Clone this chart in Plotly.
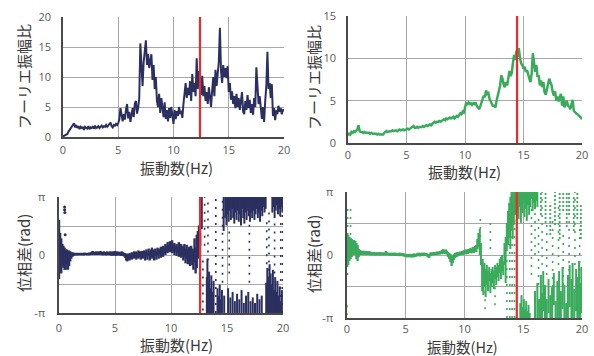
import numpy as np
import plotly.graph_objects as go

PI = np.pi

# ---------------- data ----------------
# Fourier amplitude ratio, left (navy), 0..20 Hz every 0.1 Hz
amp_left_freq = np.round(np.arange(0, 20.01, 0.1), 2)
amp_left = [
    0.1, 0.2, 0.3, 0.3, 0.5, 0.9, 1.2, 1.5, 1.9, 2.2,
    2.3, 1.6, 2.0, 1.5, 1.8, 1.3, 1.7, 1.5, 1.6, 1.2,
    1.7, 1.5, 1.4, 1.8, 1.3, 1.6, 1.5, 1.7, 1.4, 1.9,
    1.5, 1.6, 1.8, 1.5, 1.7, 1.9, 1.6, 1.8, 1.7, 2.0,
    1.7, 1.9, 2.1, 2.4, 1.8, 1.6, 2.0, 1.9, 2.2, 2.0,
    2.3, 3.0, 4.8, 3.2, 2.6, 3.8, 2.9, 4.6, 5.5, 3.1,
    4.2, 2.5, 3.6, 4.8, 3.3, 5.6, 6.0, 3.9, 4.8, 6.5,
    15.6, 11.0, 8.5, 12.5, 14.8, 16.1, 12.0, 13.8, 11.5, 13.2,
    13.8, 9.5, 12.0, 8.0, 10.0, 6.0, 5.0, 7.2, 4.0, 6.5,
    5.2, 3.3, 5.8, 3.0, 4.5, 2.6, 4.8, 3.2, 5.0, 3.5,
    2.2, 4.5, 3.0, 4.3, 3.5, 5.0, 3.8, 4.4, 3.2, 5.5,
    7.0, 9.0, 6.5, 8.2, 7.0, 9.3, 6.0, 10.5, 7.5, 9.0,
    6.8, 13.1, 8.0, 11.0, 9.5, 7.0, 10.2, 6.8, 8.5, 6.0,
    7.5, 5.5, 8.3, 6.5, 5.0, 7.8, 10.0, 6.8, 11.2, 8.5,
    10.8, 12.5, 18.2, 11.0, 9.0, 12.0, 10.0, 11.5, 9.8, 11.8,
    7.5, 9.0, 6.2, 7.6, 5.5, 6.8, 4.8, 7.2, 5.0, 6.5,
    4.5, 5.8, 7.5, 4.2, 3.8, 6.0, 4.5, 7.0, 4.8, 6.2,
    4.0, 5.5, 3.7, 6.5, 5.0, 11.6, 7.0, 5.5, 6.8, 4.2,
    3.0, 5.0, 2.5, 6.0, 8.5, 14.2, 8.0, 9.0, 6.5, 8.8,
    3.5, 4.8, 2.8, 4.5, 3.8, 5.2, 4.2, 4.8, 3.8, 4.6,
    4.3,
]

# Fourier amplitude ratio, right (green), 0..20 Hz every 0.1 Hz
amp_right_freq = np.round(np.arange(0, 20.01, 0.1), 2)
amp_right = [
    0.9, 1.1, 1.0, 1.3, 1.2, 1.4, 1.3, 1.5, 1.6, 2.1,
    1.4, 1.3, 1.3, 1.2, 1.3, 1.2, 1.2, 1.2, 1.2, 1.1,
    1.2, 1.1, 1.1, 1.1, 1.1, 1.0, 1.1, 1.0, 1.0, 1.0,
    1.0, 1.2, 1.3, 1.4, 1.3, 1.4, 1.4, 1.4, 1.5, 1.4,
    1.5, 1.5, 1.4, 1.5, 1.6, 1.5, 1.6, 1.6, 1.5, 1.6,
    1.6, 1.7, 1.6, 1.7, 1.7, 1.8, 2.0, 1.8, 1.8, 1.9,
    1.8, 1.9, 1.9, 1.9, 2.0, 1.9, 2.0, 2.1, 2.0, 2.1,
    2.2, 2.1, 2.3, 2.4, 2.5, 2.4, 2.5, 2.5, 2.6, 2.5,
    2.6, 2.7, 2.8, 2.7, 2.9, 2.8, 2.9, 3.0, 2.9, 3.0,
    3.1, 2.9, 3.0, 3.2, 3.1, 3.3, 3.5, 3.4, 3.7, 3.6,
    4.4, 4.7, 4.6, 4.8, 4.6, 4.7, 4.5, 4.7, 4.6, 4.8,
    4.4, 4.2, 4.0, 4.3, 4.7, 5.2, 5.6, 5.4, 6.2, 5.8,
    5.9, 5.2, 4.9, 4.6, 4.3, 4.5, 4.2, 5.0, 5.6, 6.1,
    6.8, 8.0, 7.6, 6.9, 6.6, 7.2, 6.8, 7.6, 8.5, 7.9,
    8.3, 9.5, 10.4, 9.8, 10.9, 10.2, 11.2, 10.0, 9.4, 9.2,
    8.8, 9.0, 8.4, 8.6, 8.0, 7.6, 7.2, 8.2, 10.6, 9.6,
    8.4, 9.2, 7.8, 8.0, 6.8, 7.4, 6.6, 7.2, 6.0, 5.7,
    6.3, 7.0, 7.6, 7.2, 6.8, 6.0, 5.6, 6.1, 5.0, 5.5,
    4.9, 5.4, 5.8, 4.4, 5.5, 4.2, 4.6, 5.0, 4.4, 4.3,
    4.0, 4.6, 5.1, 3.8, 3.6, 3.5, 3.4, 3.3, 3.2, 3.0,
    2.8,
]

# Phase difference (rad), left: coherent band 0..12.6 Hz (min / max per 0.1 Hz)
ph_left_band_freq = np.round(np.arange(0, 12.61, 0.1), 2)
ph_left_band_lo = [
    -1.3, -0.8, -1.0, -0.6, -0.7, -0.8, -0.8, -0.5, -0.8, -0.6,
    -0.35, -0.2, -0.1, -0.05, -0.03, 0.0, -0.03, 0.0, -0.02, 0.0,
    -0.02, 0.0, -0.03, 0.0, 0.0, -0.02, 0.0, -0.02, 0.0, 0.02,
    0.0, 0.03, 0.0, 0.02, 0.0, 0.03, 0.0, 0.02, 0.0, -0.02,
    0.0, 0.02, -0.03, 0.0, 0.0, -0.02, 0.0, -0.05, 0.0, -0.04,
    0.0, -0.05, 0.0, -0.03, 0.0, -0.05, -0.02, -0.05, -0.08, -0.15,
    -0.3, -0.35, -0.25, -0.3, -0.2, -0.25, -0.15, -0.2, -0.1, -0.25,
    -0.15, -0.2, -0.1, -0.25, -0.12, -0.2, -0.05, -0.3, -0.1, -0.25,
    -0.05, -0.3, -0.1, -0.2, 0.0, -0.3, -0.05, -0.25, 0.0, -0.2,
    0.05, -0.15, 0.0, -0.1, 0.1, 0.0, 0.15, 0.1, 0.2, 0.15,
    0.25, 0.1, 0.2, 0.0, 0.15, -0.05, 0.1, -0.1, 0.05, -0.15,
    0.0, -0.3, -0.1, -0.45, -0.2, -0.5, -0.25, -0.6, -0.3, -0.55,
    -0.8, -0.4, -1.0, -0.7, -0.2, 0.4, 0.5,
]
ph_left_band_hi = [
    1.9, 1.2, 0.9, 0.6, 0.5, 0.4, 0.3, 0.3, 0.2, 0.25,
    0.2, 0.15, 0.15, 0.12, 0.12, 0.1, 0.12, 0.1, 0.12, 0.1,
    0.12, 0.1, 0.12, 0.13, 0.11, 0.12, 0.1, 0.14, 0.12, 0.18,
    0.22, 0.18, 0.15, 0.2, 0.16, 0.2, 0.17, 0.22, 0.18, 0.15,
    0.2, 0.17, 0.15, 0.2, 0.16, 0.18, 0.2, 0.15, 0.2, 0.17,
    0.22, 0.15, 0.2, 0.16, 0.18, 0.14, 0.2, 0.15, 0.12, 0.1,
    0.05, 0.08, 0.05, 0.1, 0.08, 0.15, 0.1, 0.2, 0.15, 0.2,
    0.12, 0.25, 0.18, 0.2, 0.22, 0.15, 0.25, 0.2, 0.3, 0.15,
    0.35, 0.2, 0.3, 0.4, 0.25, 0.3, 0.35, 0.2, 0.4, 0.3,
    0.35, 0.45, 0.3, 0.5, 0.4, 0.6, 0.5, 0.7, 0.55, 0.75,
    0.6, 0.8, 0.55, 0.65, 0.5, 0.6, 0.45, 0.7, 0.5, 0.6,
    0.45, 0.5, 0.6, 0.35, 0.55, 0.3, 0.45, 0.2, 0.5, 0.35,
    0.3, 0.9, 0.4, 1.1, 1.3, 1.6, 1.2,
]
# left: scattered region above 12.6 Hz, dense vertical clusters (freq, min, max)
ph_left_dense_freq = [
    12.75, 13.2, 13.25, 13.3, 13.4, 13.5, 13.6, 13.7, 13.8, 14.15, 14.25, 14.35, 14.45, 14.55,
    14.7, 14.75, 14.85, 14.95, 15.05, 15.1, 15.15, 15.25, 15.3, 15.35, 15.45, 15.5, 15.55,
    15.65, 15.7, 15.75, 15.85, 15.9, 15.95, 16.05, 16.1, 16.15, 16.25, 16.3, 16.35, 16.45,
    16.5, 16.55, 16.65, 16.7, 16.75, 16.85, 16.9, 16.95, 17.05, 17.1, 17.15, 17.25, 17.3,
    17.35, 17.45, 17.5, 17.55, 17.65, 17.7, 17.75, 17.85, 17.9, 17.95, 18.05, 18.1, 18.15,
    18.25, 18.35, 18.45, 18.5, 18.6, 18.7, 18.8, 18.9, 19.0, 19.1, 19.2, 19.3, 19.4, 19.5,
    19.6, 19.7, 19.8, 19.9, 19.05, 19.15, 19.25, 19.35, 19.45, 19.55, 19.65, 19.75, 19.85, 19.95,
]
ph_left_dense_lo = [
    1.4, -3.14, -3.14, -3.14, -3.14, -3.14, -3.14, -3.14, -3.14, -3.14, -3.14, -3.14, -3.14, -3.14,
    1.3, -3.14, 2.0, 1.6, 2.2, -3.14, 1.8, 2.4, -3.14, 1.9, 2.5, -3.14, 2.0,
    1.7, -3.14, 2.3, 1.9, -3.14, 2.4, 1.8, -3.14, 2.2, 1.6, -3.14, 2.5, 2.0,
    -3.14, 1.7, 2.3, -3.14, 1.9, 2.4, -3.14, 2.1, 1.8, -3.14, 2.3, 2.0, -3.14,
    2.4, 1.9, -3.14, 2.2, 2.5, -3.14, 2.0, 2.3, -3.14, 1.8, 2.4, -3.14, 2.1,
    2.6, 2.3, 2.5, -3.14, -3.14, -3.14, -3.14, -3.14, -3.14, -3.14, -3.14, -3.14, -3.14, -3.14,
    -3.14, -3.14, -3.14, -3.14, 2.3, 2.6, 2.0, 2.4, 2.7, 2.2, 2.5, 2.1, 2.6, 2.3,
]
ph_left_dense_hi = [
    3.14, -1.2, -0.2, -1.5, -0.9, -1.8, -1.1, -2.0, -1.4, -1.8, -2.2, -1.6, -2.4, -1.9,
    3.14, -2.2, 3.14, 3.14, 3.14, -1.8, 3.14, 3.14, -2.3, 3.14, 3.14, -2.0, 3.14,
    3.14, -2.5, 3.14, 3.14, -2.1, 3.14, 3.14, -2.4, 3.14, 3.14, -1.9, 3.14, 3.14,
    -2.6, 3.14, 3.14, -2.2, 3.14, 3.14, -2.0, 3.14, 3.14, -2.5, 3.14, 3.14, -2.3,
    3.14, 3.14, -2.6, 3.14, 3.14, -2.1, 3.14, 3.14, -2.4, 3.14, 3.14, -2.2, 3.14,
    3.14, 3.14, 3.14, -1.5, -0.7, -1.2, -0.5, -1.0, -1.6, -0.8, -1.9, -1.2, -2.0, -1.4,
    -2.2, -1.7, -2.5, -1.9, 3.14, 3.14, 3.14, 3.14, 3.14, 3.14, 3.14, 3.14, 3.14, 3.14,
]
# left: sparse vertical runs of points
ph_left_sparse_freq = [12.85, 13.0, 13.3, 14.0, 14.6, 15.2, 17.0, 18.55, 18.75, 19.25, 19.8, 19.98]
ph_left_sparse_lo = [-3.0, 0.5, -0.3, -3.14, -1.5, -1.0, -1.5, -0.5, -3.0, -1.0, -3.14, -3.14]
ph_left_sparse_hi = [-0.1, 3.14, 3.14, 3.14, 3.14, 1.5, 1.8, 2.0, 2.5, 2.0, 3.14, 3.14]
ph_left_mid_freq = []
ph_left_mid_lo = []
ph_left_mid_hi = []
ph_left_out_freq = [0.5, 0.5, 0.52, 0.55]
ph_left_out = [2.6, 2.45, 2.3, 1.1]

# Phase difference (rad), right: coherent band 0..11.2 Hz
ph_right_band_freq = np.round(np.arange(0, 11.21, 0.1), 2)
ph_right_band_lo = [
    -0.35, -0.5, -0.3, -0.2, -0.1, 0.0, 0.1, 0.0, -0.2, -0.3,
    -0.1, 0.0, 0.0, 0.02, 0.0, 0.03, 0.0, 0.02, 0.0, 0.02,
    -0.02, 0.0, -0.02, 0.0, -0.03, 0.0, -0.02, 0.0, -0.03, 0.0,
    -0.02, 0.0, -0.03, 0.0, -0.02, 0.0, -0.04, -0.02, -0.05, -0.03,
    -0.05, -0.03, -0.05, -0.04, -0.06, -0.04, -0.06, -0.05, -0.07, -0.08,
    -0.1, -0.12, -0.1, -0.12, -0.1, -0.13, -0.1, -0.12, -0.1, -0.08,
    -0.06, -0.05, -0.08, -0.05, -0.04, -0.06, -0.03, -0.05, -0.08, -0.12,
    -0.15, -0.05, -0.03, 0.0, -0.02, 0.0, 0.02, 0.0, 0.03, 0.02,
    0.05, 0.04, 0.08, 0.05, 0.08, 0.02, -0.1, -0.2, -0.35, -0.55,
    -0.4, -0.25, -0.15, -0.1, -0.08, -0.05, -0.02, 0.0, 0.02, 0.0,
    0.05, 0.03, 0.08, 0.05, 0.1, 0.12, 0.08, 0.15, 0.1, 0.2,
    0.15, 0.3, 0.4,
]
ph_right_band_hi = [
    1.1, 1.0, 0.9, 0.85, 0.8, 0.7, 0.75, 0.7, 0.6, 0.5,
    0.3, 0.25, 0.22, 0.2, 0.22, 0.2, 0.18, 0.2, 0.17, 0.2,
    0.15, 0.16, 0.14, 0.15, 0.12, 0.14, 0.12, 0.15, 0.12, 0.14,
    0.12, 0.13, 0.12, 0.2, 0.14, 0.12, 0.1, 0.12, 0.1, 0.12,
    0.1, 0.12, 0.1, 0.11, 0.1, 0.12, 0.08, 0.1, 0.08, 0.07,
    0.05, 0.06, 0.05, 0.04, 0.06, 0.04, 0.06, 0.08, 0.05, 0.07,
    0.1, 0.12, 0.08, 0.1, 0.12, 0.1, 0.12, 0.1, 0.08, 0.06,
    0.05, 0.12, 0.14, 0.12, 0.15, 0.14, 0.16, 0.18, 0.15, 0.2,
    0.22, 0.25, 0.3, 0.22, 0.28, 0.22, 0.15, 0.1, 0.05, -0.05,
    0.0, 0.05, 0.1, 0.12, 0.15, 0.12, 0.18, 0.15, 0.2, 0.22,
    0.25, 0.28, 0.25, 0.3, 0.28, 0.35, 0.3, 0.4, 0.35, 0.45,
    0.5, 0.8, 1.1,
]
ph_right_dense_freq = [
    11.3, 11.4, 11.5, 11.55, 11.6, 11.7, 11.8, 11.9, 12.0, 12.1, 12.2, 12.3, 12.4, 12.5,
    12.6, 12.7, 12.8, 12.9, 13.0, 13.1, 13.2, 13.3, 13.4, 13.5, 13.6, 13.7, 13.8, 13.9,
    14.0, 14.1, 14.2, 14.3, 14.5, 14.6, 14.7, 14.8, 14.9, 15.0, 15.1, 15.2, 15.3, 15.4,
    15.5, 15.6, 15.7, 15.8, 15.9, 16.0, 16.1, 16.2,
    14.75, 14.85, 14.95, 15.05, 15.15, 15.25, 15.35, 15.45, 15.55,
    16.0, 16.2, 16.35, 16.5, 16.6, 16.7, 16.85, 17.0, 17.15, 17.3, 17.45, 17.6, 17.75,
    17.9, 18.05, 18.2, 18.35, 18.5, 18.65, 18.8, 18.95, 19.1, 19.2, 19.35, 19.5, 19.6,
    19.75, 19.85, 19.95,
]
ph_right_dense_lo = [
    0.0, -0.5, -1.8, -1.5, -2.0, -1.6, -2.1, -1.5, -1.8, -1.3, -1.9, -1.6, -1.4, -1.7,
    -1.2, -1.5, -1.1, -1.3, -0.9, -1.2, -0.8, -1.0, -0.5, -1.4, 0.2, 0.5, 0.9, 0.3,
    1.2, 0.8, 1.5, 2.0, 2.2, 1.8, 2.4, 1.6, 2.1, 2.6, 1.9, 2.3, 1.7, 2.5,
    2.0, 2.4, 2.8, 2.2, 2.6, 2.3, 2.7, 2.4,
    -3.14, -3.14, -3.14, -3.14, -3.14, -3.14, -3.14, -3.14, -3.14,
    -3.14, -3.14, -3.14, -3.14, -3.14, -2.8, -3.14, -3.14, -2.9, -3.14, -3.14, -2.5, -3.14,
    -3.14, -3.14, -3.14, -2.7, -3.14, -3.14, -3.14, -2.6, -3.14, -3.14, -3.14, -2.8, -3.14,
    -3.14, -3.14, -2.9,
]
ph_right_dense_hi = [
    1.3, 0.6, -0.3, -0.2, -0.5, -0.4, -0.7, -0.5, -0.8, -0.6, -0.9, -0.7, -0.6, -0.8,
    -0.5, -0.6, -0.4, -0.5, -0.2, -0.1, 0.0, -0.3, 0.6, 0.9, 1.6, 2.2, 2.6, 2.9,
    3.14, 3.14, 3.14, 3.14, 3.14, 3.14, 3.14, 3.14, 3.14, 3.14, 3.14, 3.14, 3.14, 3.14,
    3.14, 3.14, 3.14, 3.14, 3.14, 3.14, 3.14, 3.14,
    -2.4, -2.0, -2.6, -2.2, -2.7, -2.3, -2.8, -2.5, -2.9,
    -1.8, -1.4, -2.2, -1.0, -1.9, -0.8, -1.5, -2.2, -1.2, -2.0, -1.6, -0.9, -2.3,
    -1.3, -0.8, -1.8, -0.6, -1.5, -2.4, -1.0, -0.5, -1.2, -0.4, -1.7, -0.7, -1.1,
    -0.3, -1.4, -0.6,
]
# right: upper-range runs of loosely packed points above 16 Hz
ph_right_mid_freq = [16.5, 16.9, 17.3, 17.7, 18.1, 18.4, 18.7, 18.9, 19.3, 19.6, 19.9]
ph_right_mid_lo = [2.0, 1.6, 1.0, 1.5, 0.8, 2.2, 1.4, 2.0, 1.2, 1.8, 0.8]
ph_right_mid_hi = [3.14, 3.14, 2.6, 3.14, 3.14, 3.14, 3.14, 3.14, 3.0, 3.14, 2.5]
ph_right_sparse_freq = [0.0, 0.05, 0.3, 11.35, 11.75, 12.2, 12.6, 13.6, 13.85, 14.05, 14.25,
                        15.7, 16.0, 16.3, 16.6, 17.0, 17.5, 18.0, 18.4, 18.9, 19.4, 19.8]
ph_right_sparse_lo = [-3.0, -1.0, 1.0, 0.5, -2.7, 0.3, -2.5, -3.14, -3.14, -3.14, -3.14,
                      -1.0, 0.0, -1.5, -0.5, -1.0, -2.0, -0.5, -1.5, -2.0, -0.5, -2.0]
ph_right_sparse_hi = [-2.4, 2.4, 2.3, 1.9, -1.5, 1.9, -1.5, 0.0, 1.0, 1.2, 2.0,
                      2.5, 2.3, 2.0, 3.14, 1.5, 2.0, 2.5, 1.0, 2.0, 3.14, 1.5]

# reference frequencies (red lines)
peak_amp_left = 12.4
peak_amp_right = 14.45
peak_ph_left = 12.6
peak_ph_right = 14.45

NAVY = "#2c3060"
GREEN = "#3aab5b"
RED = "#f02828"
GRID = "#a8a8a8"
AXIS = "#4a4a4a"
TICKC = "#595959"
TITLEC = "#3a3a3a"
JP = "Noto Sans CJK JP"


def segs(fs, los, his):
    xs, ys = [], []
    for f, lo, hi in zip(fs, los, his):
        xs += [f, f, None]
        ys += [lo, hi, None]
    return xs, ys


fig = go.Figure()

# amplitude traces
fig.add_trace(go.Scatter(x=amp_left_freq, y=amp_left, mode="lines",
                         line=dict(color=NAVY, width=2), xaxis="x", yaxis="y"))
fig.add_trace(go.Scatter(x=amp_right_freq, y=amp_right, mode="lines",
                         line=dict(color=GREEN, width=2.5), xaxis="x2", yaxis="y2"))

# phase traces
def add_phase(band, dense, mid, sparse, color, xa, ya, outl=None):
    bx, by = segs(*band)
    fig.add_trace(go.Scatter(x=bx, y=by, mode="lines", line=dict(color=color, width=2.4),
                             xaxis=xa, yaxis=ya))
    dx, dy = segs(*dense)
    fig.add_trace(go.Scatter(x=dx, y=dy, mode="lines",
                             line=dict(color=color, width=2.0),
                             xaxis=xa, yaxis=ya))
    if len(mid[0]):
        mx, my = segs(*mid)
        fig.add_trace(go.Scatter(x=mx, y=my, mode="lines",
                                 line=dict(color=color, width=1.8, dash="2px,2px"),
                                 xaxis=xa, yaxis=ya))
    sx, sy = segs(*sparse)
    fig.add_trace(go.Scatter(x=sx, y=sy, mode="lines",
                             line=dict(color=color, width=1.6, dash="2px,6px"),
                             xaxis=xa, yaxis=ya))
    if outl is not None:
        fig.add_trace(go.Scatter(x=outl[0], y=outl[1], mode="markers",
                                 marker=dict(color=color, size=3),
                                 xaxis=xa, yaxis=ya))


add_phase((ph_left_band_freq, ph_left_band_lo, ph_left_band_hi),
          (ph_left_dense_freq, ph_left_dense_lo, ph_left_dense_hi),
          (ph_left_mid_freq, ph_left_mid_lo, ph_left_mid_hi),
          (ph_left_sparse_freq, ph_left_sparse_lo, ph_left_sparse_hi),
          NAVY, "x3", "y3", (ph_left_out_freq, ph_left_out))
add_phase((ph_right_band_freq, ph_right_band_lo, ph_right_band_hi),
          (ph_right_dense_freq, ph_right_dense_lo, ph_right_dense_hi),
          (ph_right_mid_freq, ph_right_mid_lo, ph_right_mid_hi),
          (ph_right_sparse_freq, ph_right_sparse_lo, ph_right_sparse_hi),
          GREEN, "x4", "y4")

# red marker lines
for f, xa, ya, rng in [(peak_amp_left, "x", "y", [0, 20]),
                       (peak_amp_right, "x2", "y2", [0, 15]),
                       (peak_ph_left, "x3", "y3", [-PI, PI]),
                       (peak_ph_right, "x4", "y4", [-PI, PI])]:
    fig.add_trace(go.Scatter(x=[f, f], y=rng, mode="lines",
                             line=dict(color=RED, width=2.2), xaxis=xa, yaxis=ya))

tickfont = dict(family="Open Sans", size=11, color=TICKC)


def xax(domain, anchor, standoff):
    return dict(domain=domain, anchor=anchor, range=[0, 20], tickvals=[0, 5, 10, 15, 20],
                showgrid=True, gridcolor=GRID, gridwidth=1, showline=True, linecolor=AXIS,
                linewidth=1.5, ticks="", tickfont=tickfont, zeroline=False,
                ticklabelstandoff=standoff, fixedrange=True, automargin=False)


def yax(domain, anchor, rng, tickvals, ticktext, standoff):
    return dict(domain=domain, anchor=anchor, range=rng, tickvals=tickvals, ticktext=ticktext,
                showgrid=True, gridcolor=GRID, gridwidth=1, showline=True, linecolor=AXIS,
                linewidth=1.5, ticks="", tickfont=tickfont, zeroline=False,
                ticklabelstandoff=standoff, fixedrange=True, automargin=False)


W, H = 594, 356
def fx(a, b):
    return [a / W, b / W]
def fy(top, bottom):
    return [(H - bottom) / H, (H - top) / H]

ph_ticks = [-PI, -PI / 2, 0, PI / 2, PI]
ph_text = ["-π", "", "0", "", "π"]

fig.update_layout(
    width=W, height=H, margin=dict(l=0, r=0, t=0, b=0, autoexpand=False),
    paper_bgcolor="white", plot_bgcolor="white", showlegend=False,
    xaxis=xax(fx(63, 284), "y", 2),
    yaxis=yax(fy(17, 137), "x", [0, 20], [0, 5, 10, 15, 20], ["0", "5", "10", "15", "20"], 8),
    xaxis2=xax(fx(348, 582), "y2", 1),
    yaxis2=yax(fy(16, 143), "x2", [0, 15], [0, 5, 10, 15], ["0", "5", "10", "15"], 8),
    xaxis3=xax(fx(59, 283), "y3", 4),
    yaxis3=yax(fy(197, 313), "x3", [-PI, PI], ph_ticks, ph_text, 10),
    xaxis4=xax(fx(347, 582), "y4", 0),
    yaxis4=yax(fy(192, 318), "x4", [-PI, PI], ph_ticks, ph_text, 10),
)

def ann(text, x, y, angle=0, size=15):
    fig.add_annotation(text=text, x=x / W, y=(H - y) / H, xref="paper", yref="paper",
                       showarrow=False, textangle=angle, xanchor="center", yanchor="middle",
                       borderpad=0,
                       font=dict(family=JP, size=size, color=TITLEC))

ann("振動数(Hz)", 177, 167)
ann("フーリエ振幅比", 23, 77, -90)
ann("振動数(Hz)", 464, 172)
ann("フーリエ振幅比", 313, 78, -90)
ann("振動数(Hz)", 177, 344)
ann("位相差(rad)", 23, 253, -90)
ann("振動数(Hz)", 463, 346, size=14.5)
ann("位相差(rad)", 313, 254, -90)

fig.write_html(
    "out.html",
    config={"displayModeBar": False},
    post_script="document.body.style.margin='0';document.body.style.padding='0';"
                "document.documentElement.style.overflow='hidden';",
)
